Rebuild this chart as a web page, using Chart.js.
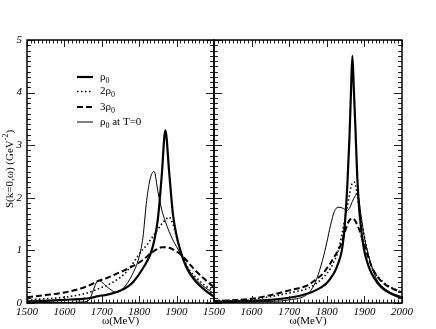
<!DOCTYPE html>
<html><head><meta charset="utf-8">
<script src="https://cdn.jsdelivr.net/npm/chart.js@4/dist/chart.umd.min.js"></script>
<style>
html,body{margin:0;padding:0;background:#fff;}
#wrap{position:relative;width:436px;height:329px;overflow:hidden;}
canvas{position:absolute;left:0;top:0;}
</style></head><body>
<div id="wrap"><canvas id="c1" width="436" height="329"></canvas><canvas id="c2" width="436" height="329"></canvas></div>
<script>
// ---- Left panel data ----
const omegaLeft = [1500,1550,1600,1650,1665,1691,1715,1740,1760,1780,1800,1810,1820,1830,1840,1850,1860,1870,1880,1890,1900,1910,1920,1935,1950,1975,2000];
const leftRho0   = [0.03,0.04,0.06,0.08,0.09,0.13,0.16,0.21,0.27,0.37,0.55,0.66,0.78,0.93,1.18,1.6,2.4,3.28,2.5,1.7,1.28,1.0,0.78,0.56,0.42,0.25,0.12];
const left2Rho0  = [0.06,0.08,0.11,0.17,0.2,0.27,0.34,0.44,0.55,0.72,0.93,1.02,1.1,1.2,1.3,1.4,1.5,1.58,1.63,1.5,1.25,1.0,0.82,0.62,0.5,0.34,0.22];
const left3Rho0  = [0.11,0.15,0.2,0.29,0.33,0.42,0.48,0.56,0.62,0.69,0.77,0.82,0.88,0.94,0.99,1.03,1.06,1.06,1.05,1.02,0.98,0.93,0.86,0.74,0.62,0.45,0.3];
const leftRho0T0 = [0.01,0.01,0.01,0.02,0.05,0.43,0.3,0.2,0.3,0.52,0.88,1.25,1.95,2.38,2.5,2.12,1.78,1.55,1.36,1.2,1.07,0.94,0.8,0.6,0.46,0.3,0.18];
// ---- Right panel data ----
const omegaRight = [1500,1550,1600,1650,1700,1750,1770,1790,1800,1810,1820,1830,1840,1848,1855,1860,1864,1868,1872,1876,1881,1886,1890,1895,1900,1910,1920,1935,1950,1970,2000];
const rightRho0   = [0.02,0.03,0.04,0.06,0.1,0.18,0.24,0.32,0.38,0.47,0.58,0.75,1.0,1.5,2.3,3.1,3.95,4.7,4.05,3.35,2.4,1.8,1.5,1.2,0.98,0.72,0.55,0.38,0.27,0.18,0.09];
const right2Rho0  = [0.03,0.04,0.07,0.12,0.19,0.28,0.36,0.48,0.56,0.66,0.8,0.98,1.3,1.6,1.85,2.05,2.2,2.28,2.3,2.25,2.05,1.8,1.6,1.42,1.26,0.92,0.68,0.5,0.4,0.3,0.2];
const right3Rho0  = [0.04,0.05,0.08,0.15,0.24,0.34,0.44,0.56,0.66,0.76,0.88,1.0,1.15,1.35,1.5,1.57,1.6,1.61,1.6,1.56,1.48,1.4,1.32,1.2,1.1,0.88,0.68,0.5,0.38,0.29,0.2];
const rightRho0T0 = [0.01,0.01,0.02,0.03,0.06,0.18,0.4,0.85,1.15,1.48,1.74,1.82,1.81,1.78,1.76,1.8,1.86,1.93,1.99,2.04,2.1,1.95,1.72,1.48,1.25,0.93,0.68,0.42,0.3,0.2,0.12];
// ---- Axes / labels ----
const xMin = 1500, xMax = 2000, xStep = 100, xMinor = 10;
const yMin = 0, yMax = 5, yStep = 1, yMinor = 0.1;
const legendLabels = [["ρ","0",""],["2ρ","0",""],["3ρ","0",""],["ρ","0"," at T=0"]];
const xTitle = "ω(MeV)";
const yTitleMain = "S(k=0,ω) (GeV", yTitleSup = "-2", yTitleEnd = ")";

const SERIF = "'Liberation Serif','DejaVu Serif',serif";
const styles = [
  {borderWidth:2.2, borderDash:[]},
  {borderWidth:1.6, borderDash:[1.5,2.5]},
  {borderWidth:2.0, borderDash:[6,3]},
  {borderWidth:1.0, borderDash:[]}
];
function mk(omega, vals, s){
  return Object.assign({data: omega.map((w,i)=>({x:w,y:vals[i]})), borderColor:'#000', pointRadius:0,
    cubicInterpolationMode:'monotone', fill:false}, s);
}

const framePlugin = {
  id:'frameTicks',
  afterDatasetsDraw(chart){
    const ctx = chart.ctx, a = chart.chartArea, xs = chart.scales.x, ys = chart.scales.y;
    ctx.save();
    ctx.strokeStyle = '#222'; ctx.lineWidth = 1;
    ctx.beginPath();
    for (let v = xMin; v <= xMax + 0.001; v += xMinor) {
      const px = Math.round(xs.getPixelForValue(v)) + 0.5;
      const major = Math.abs(v % xStep) < 0.001;
      const len = major ? 7 : 3.5;
      ctx.moveTo(px, a.bottom); ctx.lineTo(px, a.bottom - len);
      ctx.moveTo(px, a.top); ctx.lineTo(px, a.top + len);
    }
    for (let i = 0; i <= Math.round((yMax - yMin) / yMinor); i++) {
      const v = yMin + i * yMinor;
      const py = Math.round(ys.getPixelForValue(v)) + 0.5;
      const major = i % 10 === 0;
      const len = major ? 8 : 4;
      ctx.moveTo(a.left, py); ctx.lineTo(a.left + len, py);
      ctx.moveTo(a.right, py); ctx.lineTo(a.right - len, py);
    }
    ctx.stroke();
    ctx.strokeStyle = '#000'; ctx.lineWidth = 1.5;
    ctx.strokeRect(a.left, a.top, a.right - a.left, a.bottom - a.top);
    ctx.restore();
  }
};

const legendPlugin = {
  id:'customLegend',
  afterDraw(chart){
    const ctx = chart.ctx;
    const rows = [77, 91.5, 107, 122];
    ctx.save();
    ctx.fillStyle = '#000'; ctx.textBaseline = 'middle';
    rows.forEach((y, i) => {
      const s = styles[i];
      ctx.beginPath(); ctx.strokeStyle = '#000'; ctx.lineWidth = s.borderWidth;
      ctx.setLineDash(s.borderDash);
      ctx.moveTo(77, y); ctx.lineTo(93, y); ctx.stroke();
      ctx.setLineDash([]);
      let x = 100;
      const [a, sub, rest] = legendLabels[i];
      ctx.font = "11px " + SERIF; ctx.fillText(a, x, y); x += ctx.measureText(a).width;
      ctx.font = "8px " + SERIF; ctx.fillText(sub, x, y + 3.5); x += ctx.measureText(sub).width;
      if (rest) { ctx.font = "11px " + SERIF; ctx.fillText(rest, x, y); }
    });
    // y axis title
    ctx.translate(10, 169); ctx.rotate(-Math.PI/2);
    ctx.font = "11px " + SERIF;
    const w1 = ctx.measureText(yTitleMain).width;
    ctx.font = "8px " + SERIF;
    const w2 = ctx.measureText(yTitleSup).width;
    ctx.font = "11px " + SERIF;
    const w3 = ctx.measureText(yTitleEnd).width;
    let x = -(w1 + w2 + w3) / 2;
    ctx.textBaseline = 'middle';
    ctx.fillText(yTitleMain, x, 0); x += w1;
    ctx.font = "8px " + SERIF; ctx.fillText(yTitleSup, x, -4); x += w2;
    ctx.font = "11px " + SERIF; ctx.fillText(yTitleEnd, x, 0);
    ctx.restore();
  }
};

function xScale(hideLast){
  return {type:'linear', min:xMin, max:xMax,
    grid:{display:false, drawTicks:false}, border:{display:false},
    ticks:{stepSize:xStep, padding:3, color:'#000', maxRotation:0, autoSkip:false,
      font:{family:SERIF, size:11, style:'italic'},
      callback:(v)=> (hideLast && v === xMax) ? '' : String(v)},
    title:{display:true, text:xTitle, color:'#000', font:{family:SERIF, size:11}, padding:{top:0,bottom:1}},
    afterFit:(s)=>{ s.height = 26; }
  };
}

new Chart(document.getElementById('c1'), {
  type:'line',
  data:{datasets:[mk(omegaLeft,leftRho0,styles[0]),mk(omegaLeft,left2Rho0,styles[1]),mk(omegaLeft,left3Rho0,styles[2]),mk(omegaLeft,leftRho0T0,styles[3])]},
  options:{responsive:false, devicePixelRatio:1, animation:false,
    layout:{padding:{left:0, top:40, right:436-214, bottom:0}},
    plugins:{legend:{display:false}, tooltip:{enabled:false}},
    scales:{
      x: xScale(true),
      y:{type:'linear', min:yMin, max:yMax,
        grid:{display:false, drawTicks:false}, border:{display:false},
        ticks:{stepSize:yStep, padding:5, color:'#000', font:{family:SERIF, size:11, style:'italic'}},
        afterFit:(s)=>{ s.width = 27; }}
    }},
  plugins:[framePlugin, legendPlugin]
});

new Chart(document.getElementById('c2'), {
  type:'line',
  data:{datasets:[mk(omegaRight,rightRho0,styles[0]),mk(omegaRight,right2Rho0,styles[1]),mk(omegaRight,right3Rho0,styles[2]),mk(omegaRight,rightRho0T0,styles[3])]},
  options:{responsive:false, devicePixelRatio:1, animation:false,
    layout:{padding:{left:214, top:40, right:436-402, bottom:0}},
    plugins:{legend:{display:false}, tooltip:{enabled:false}},
    scales:{
      x: xScale(false),
      y:{type:'linear', min:yMin, max:yMax, display:false}
    }},
  plugins:[framePlugin]
});
</script>
</body></html>
